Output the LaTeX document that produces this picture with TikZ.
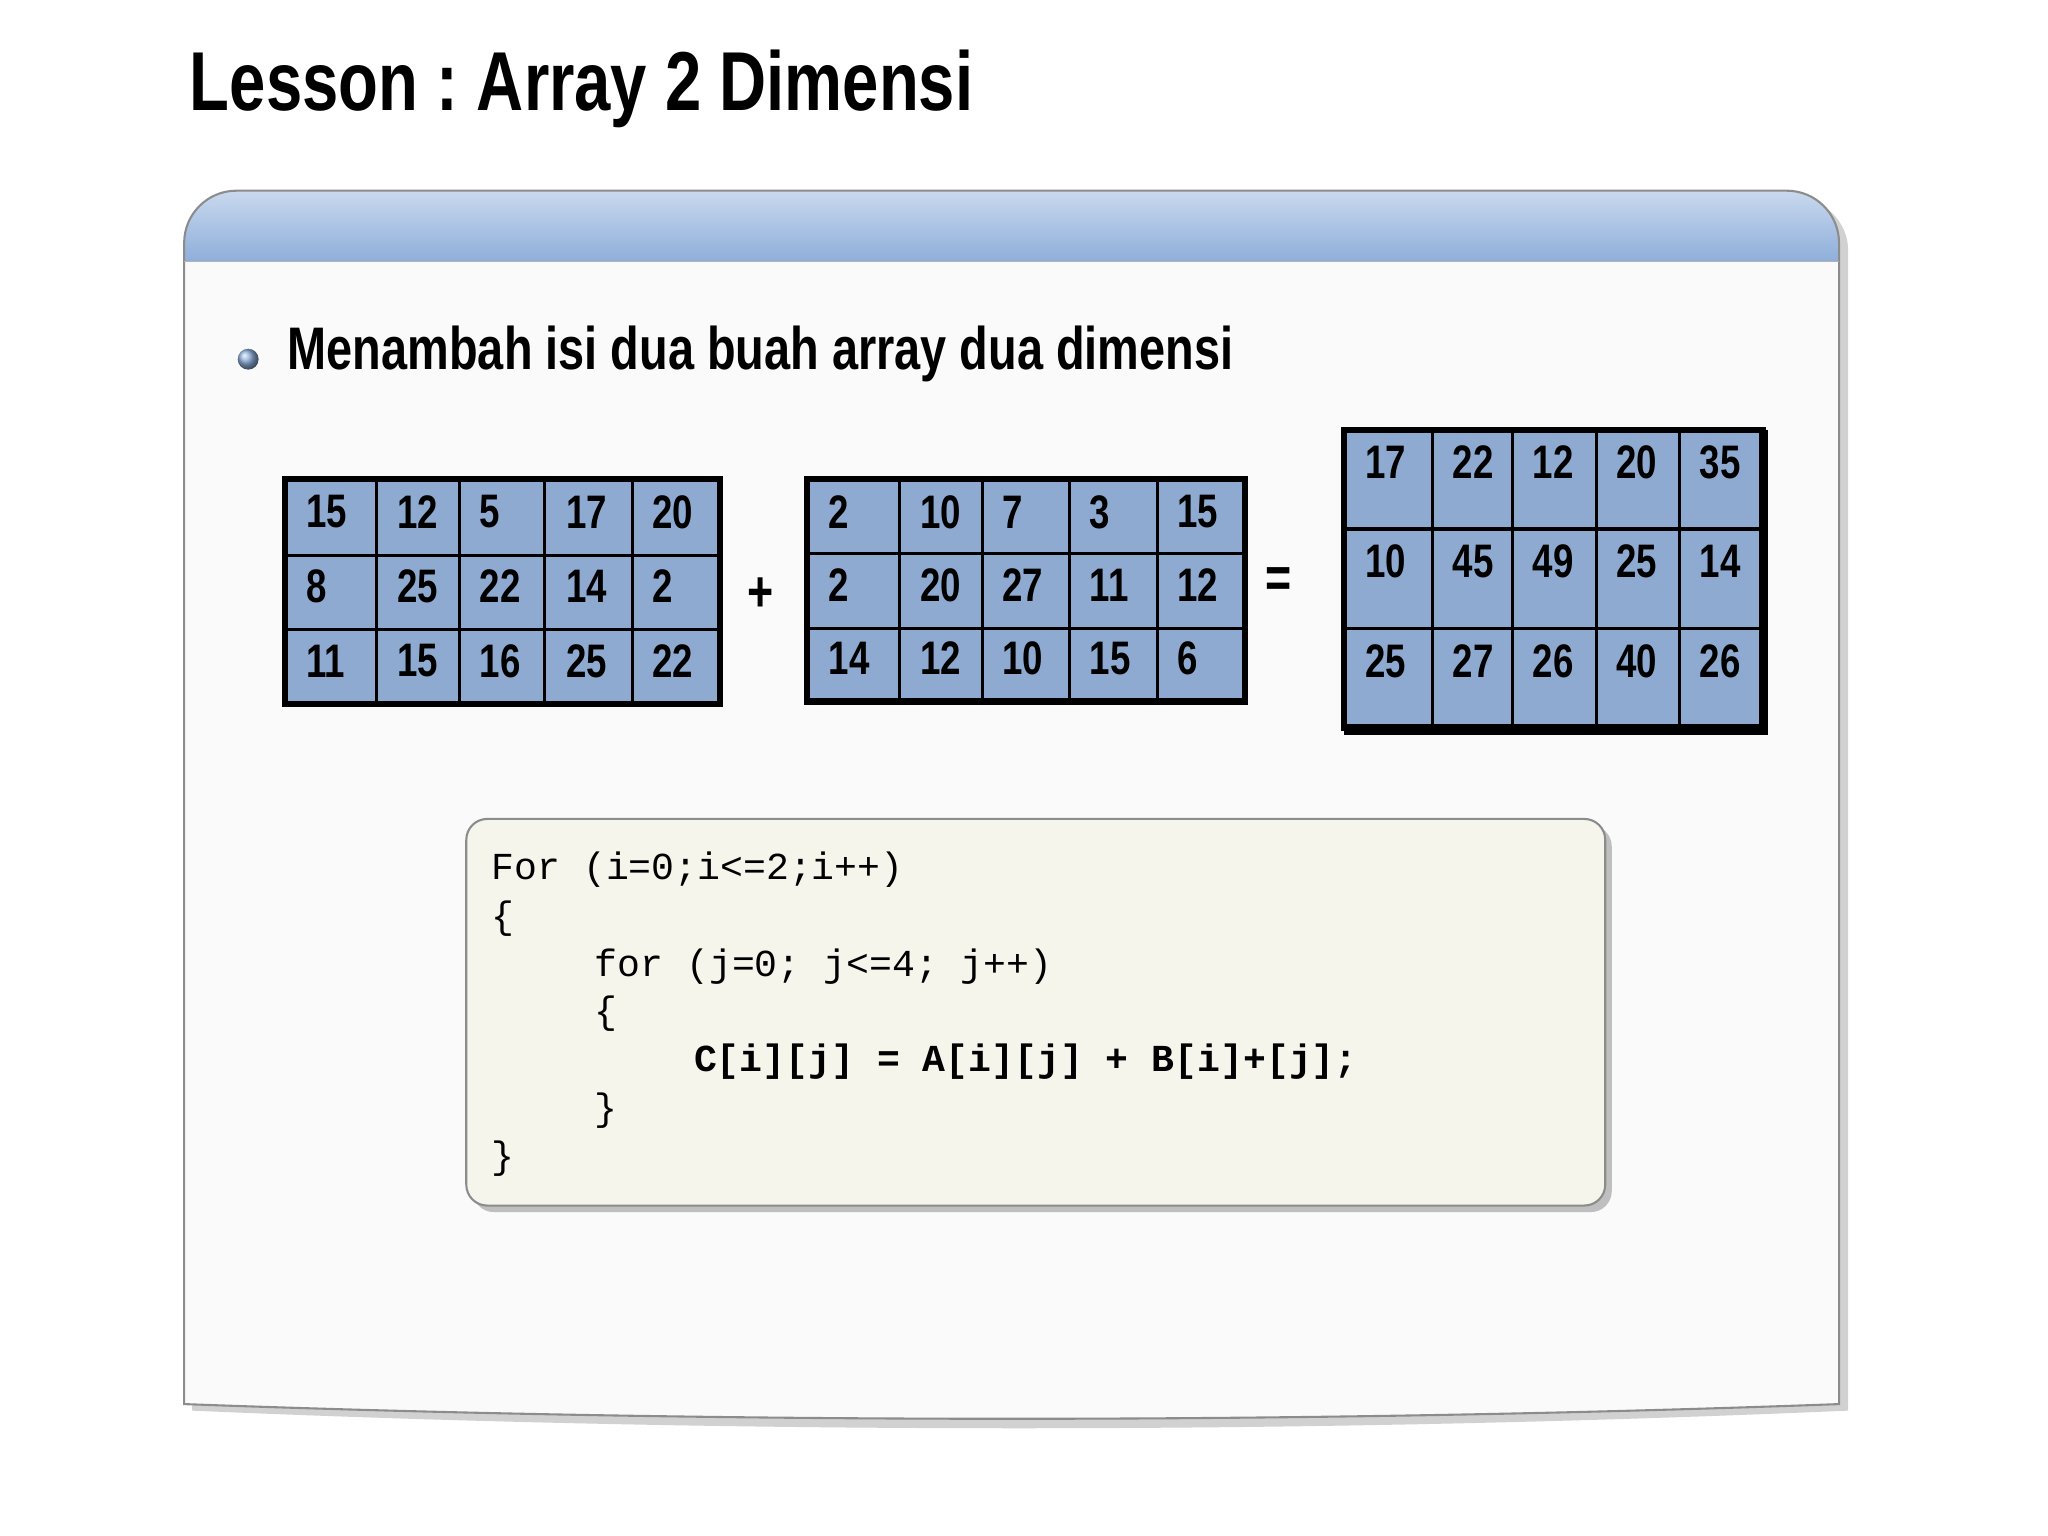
\documentclass[tikz,border=0pt]{standalone}
\usepackage{fontspec}
\setmainfont{Liberation Sans}
\newfontfamily\narrowb[FakeStretch=0.78]{Liberation Sans Bold}
\newfontfamily\codef{Liberation Mono}
\usetikzlibrary{shadows,positioning}
\definecolor{cellblue}{HTML}{8EAAD0}
\definecolor{codebg}{HTML}{F5F5EC}
\definecolor{bandtop}{HTML}{C9D9EE}
\definecolor{bandbot}{HTML}{8EAEDA}
\tikzset{
  num/.style={anchor=west,font=\narrowb\fontsize{18}{22}\selectfont,inner sep=0pt},
  codeln/.style={anchor=west,font=\codef\fontsize{14.6}{17}\selectfont,inner sep=0pt},
  gridline/.style={line width=1.2pt},
  gridframe/.style={line width=2.4pt}
}
\begin{document}
\begin{tikzpicture}[x=0.5pt,y=-0.5pt]
\useasboundingbox (0,0) rectangle (1568,1176);
\fill[white] (0,0) rectangle (1568,1176);
% title
\node[anchor=west,inner sep=0pt,font=\narrowb\fontsize{32}{36}\selectfont] (title) at (145,68) {Lesson :\kern-2pt{} Array 2 Dimensi};
% panel
\fill[black!18] (1415,1080) .. controls (1000,1098) and (560,1098) .. (147,1080) [rounded corners=20] -- (147,152) -- (1415,152) [sharp corners] -- cycle;
\fill[black!2] (1408,1075) .. controls (1000,1090) and (550,1090) .. (141,1075) [rounded corners=20] -- (141,146) -- (1408,146) [sharp corners] -- cycle;
\shade[top color=bandtop,bottom color=bandbot] (141,200) [rounded corners=20] -- (141,146) -- (1408,146) [sharp corners] -- (1408,200) -- cycle;
\draw[black!45,line width=0.8pt] (1408,1075) .. controls (1000,1090) and (550,1090) .. (141,1075) [rounded corners=20] -- (141,146) -- (1408,146) [sharp corners] -- cycle;
\draw[black!30] (141,200) -- (1408,200);
% bullet
\shade[ball color=bandbot] (190,275) circle (8);
\node[anchor=west,inner sep=0pt,font=\narrowb\fontsize{23}{26}\selectfont] (sub) at (220,271) {Menambah isi dua buah array dua dimensi};
% grid A
\fill[cellblue] (218,367) rectangle (551,539);
\foreach \x in {288,352,417,484} \draw[gridline] (\x,367) -- (\x,539);
\foreach \y in {425,482} \draw[gridline] (218,\y) -- (551,\y);
\draw[gridframe] (218,367) rectangle (551,539);
\node[num] (a11) at (234,392) {15}; \node[num] (a12) at (304,392) {12}; \node[num] (a13) at (367,392) {5}; \node[num] (a14) at (433,392) {17}; \node[num] (a15) at (499,392) {20};
\node[num] (a21) at (234,449) {8}; \node[num] (a22) at (304,449) {25}; \node[num] (a23) at (367,449) {22}; \node[num] (a24) at (433,449) {14}; \node[num] (a25) at (499,449) {2};
\node[num] (a31) at (234,506) {11}; \node[num] (a32) at (304,506) {15}; \node[num] (a33) at (367,506) {16}; \node[num] (a34) at (433,506) {25}; \node[num] (a35) at (499,506) {22};
\node[inner sep=0pt,font=\narrowb\fontsize{22}{24}\selectfont] (plus) at (582,455) {+};
% grid B
\fill[cellblue] (618,367) rectangle (953,537);
\foreach \x in {689,752,819,886} \draw[gridline] (\x,367) -- (\x,537);
\foreach \y in {424,481} \draw[gridline] (618,\y) -- (953,\y);
\draw[gridframe] (618,367) rectangle (953,537);
\node[num] (b11) at (634,392) {2}; \node[num] (b12) at (704,392) {10}; \node[num] (b13) at (767,392) {7}; \node[num] (b14) at (834,392) {3}; \node[num] (b15) at (901,392) {15};
\node[num] (b21) at (634,448) {2}; \node[num] (b22) at (704,448) {20}; \node[num] (b23) at (767,448) {27}; \node[num] (b24) at (834,448) {11}; \node[num] (b25) at (901,448) {12};
\node[num] (b31) at (634,504) {14}; \node[num] (b32) at (704,504) {12}; \node[num] (b33) at (767,504) {10}; \node[num] (b34) at (834,504) {15}; \node[num] (b35) at (901,504) {6};
\node[inner sep=0pt,font=\narrowb\fontsize{22}{24}\selectfont] (eq) at (979,446) {=};
% grid C
\fill[cellblue] (1029,329) rectangle (1352,559);
\foreach \x in {1097,1158,1222,1286} \draw[gridline] (\x,329) -- (\x,559);
\foreach \y in {405,481} \draw[gridline] (1029,\y) -- (1352,\y);
\draw[gridframe] (1029,329) rectangle (1350,557);
\draw[line width=3.5pt] (1350,329) -- (1350,559) -- (1029,559);
\node[num] (c11) at (1045,354) {17}; \node[num] (c12) at (1112,354) {22}; \node[num] (c13) at (1173,354) {12}; \node[num] (c14) at (1237,354) {20}; \node[num] (c15) at (1301,354) {35};
\node[num] (c21) at (1045,430) {10}; \node[num] (c22) at (1112,430) {45}; \node[num] (c23) at (1173,430) {49}; \node[num] (c24) at (1237,430) {25}; \node[num] (c25) at (1301,430) {14};
\node[num] (c31) at (1045,506) {25}; \node[num] (c32) at (1112,506) {27}; \node[num] (c33) at (1173,506) {26}; \node[num] (c34) at (1237,506) {40}; \node[num] (c35) at (1301,506) {26};
% code box
\fill[black!25,rounded corners=8] (362,632) rectangle (1234,928);
\draw[black!45,fill=codebg,rounded corners=8,line width=0.8pt] (357,627) rectangle (1229,923);
\node[codeln] (l1) at (376,666) {For (i=0;i<=2;i++)};
\node[codeln] (l2) at (376,703) {\{};
\node[codeln] (l3) at (455,740) {for (j=0; j<=4; j++)};
\node[codeln] (l4) at (455,776) {\{};
\node[codeln,font=\codef\bfseries\fontsize{14.6}{17}\selectfont] (l5) at (531,813) {C[i][j] = A[i][j] + B[i]+[j];};
\node[codeln] (l6) at (455,850) {\}};
\node[codeln] (l7) at (376,887) {\}};
\end{tikzpicture}
\end{document}
